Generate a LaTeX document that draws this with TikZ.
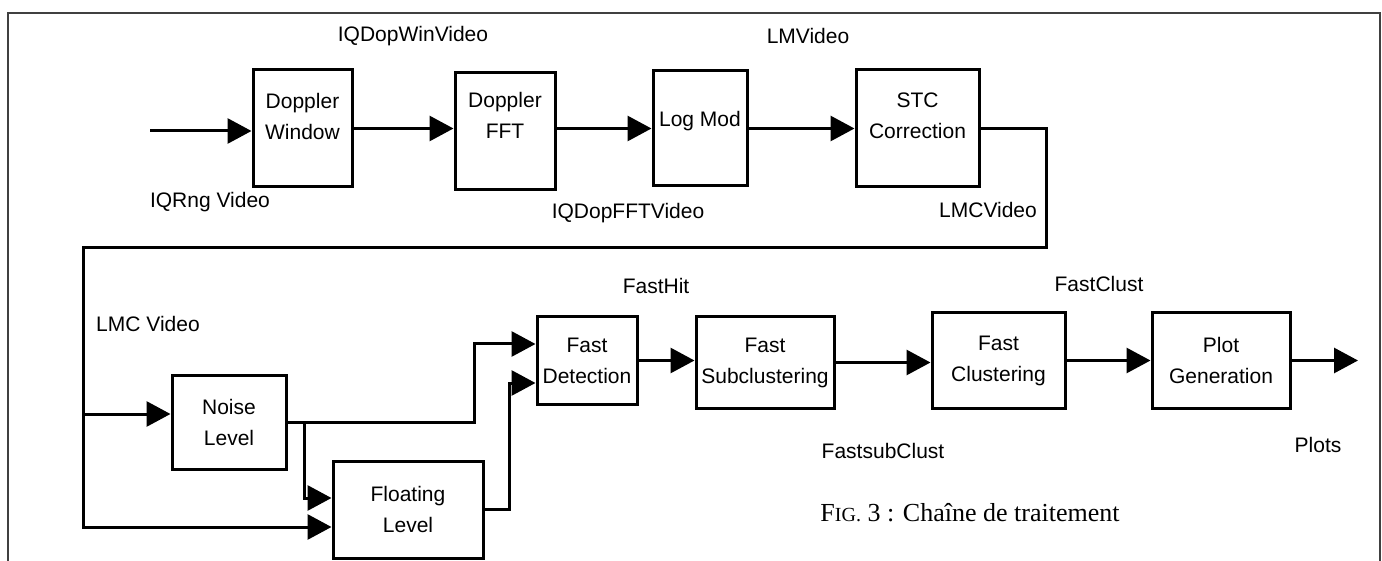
\documentclass[tikz,border=0pt]{standalone}
\usepackage{fontspec}
\setmainfont{Liberation Sans}
\newfontfamily\capfont{Liberation Serif}
\usetikzlibrary{arrows.meta}
\begin{document}
\begin{tikzpicture}[
    x=1pt, y=-1pt,
    every node/.style={font={\fontsize{21}{31}\selectfont}},
    blk/.style={draw, line width=3pt, align=center, inner sep=0pt},
    lifted/.style={text depth=#1},
    flow/.style={line width=3pt, -{Triangle[length=24pt,width=25pt]}},
    frame/.style={line width=1.2pt, black!75}
    ]
    \useasboundingbox (0,0) rectangle (1382,561);
    \draw[frame] (8,561) -- (8,13) -- (1380,13) -- (1380,561);
    \node[blk, lifted=24pt, minimum width=99, minimum height=117] (dwin) at (302.5,128.5) {Doppler\\Window};
    \node[blk, lifted=32pt, minimum width=100, minimum height=117] (dfft) at (505,131.5) {Doppler\\FFT};
    \node[blk, lifted=19pt, minimum width=94, minimum height=115] (logm) at (700,128.5) {Log Mod};
    \node[blk, lifted=26pt, minimum width=123, minimum height=117] (stc) at (917.5,128.5) {STC\\Correction};
    \node[blk, minimum width=114, minimum height=93] (noise) at (229,422.5) {Noise\\Level};
    \node[blk, minimum width=150, minimum height=97] (float) at (408,509.5) {Floating\\Level};
    \node[blk, minimum width=100, minimum height=87] (fdet) at (587,360.5) {Fast\\Detection};
    \node[blk, minimum width=138, minimum height=91] (fsub) at (765,362.5) {Fast\\Subclustering};
    \node[blk, minimum width=133, minimum height=95] (fclu) at (998.5,360.5) {Fast\\Clustering};
    \node[blk, minimum width=138, minimum height=95] (pgen) at (1221,360.5) {Plot\\Generation};
    \node (winv) at (413,36) {IQDopWinVideo};
    \node (lmv) at (808,36) {LMVideo};
    \node (rngv) at (210,202) {IQRng Video};
    \node (fftv) at (628,213) {IQDopFFTVideo};
    \node (lmcv) at (988,210) {LMCVideo};
    \node (lmcv2) at (148,324) {LMC Video};
    \node (fhit) at (656,286) {FastHit};
    \node (fclust) at (1099,284) {FastClust};
    \node (fsclust) at (883,451) {FastsubClust};
    \node (plots) at (1318,445) {Plots};
    \node[font={\capfont\fontsize{26}{30}\selectfont}] (cap) at (970,513) {F{\fontsize{20}{24}\selectfont IG.} 3 : Chaîne de traitement};
    \coordinate (src) at (150,131);
    \coordinate (turn) at (1046,248);
    \coordinate (feed) at (83,248);
    \coordinate (tap) at (83,414);
    \coordinate (fin) at (83,527);
    \coordinate (split) at (304,421.5);
    \coordinate (sink) at (1358,360.5);
    \draw[flow] (src) -- (src -| dwin.west);
    \draw[flow] (dwin.east) -- (dwin.east -| dfft.west);
    \draw[flow] (logm.west -| dfft.east) -- (logm.west);
    \draw[flow] (logm.east) -- (stc.west);
    \draw[flow] (stc.east) -| (turn) -- (feed) -- (fin) -- (fin -| float.west);
    \draw[flow] (tap) -- (tap -| noise.west);
    \draw[flow] (noise.east) -- ++(187,0) |- ([yshift=16.5pt]fdet.west);
    \draw[flow] (split) |- ([yshift=11.5pt]float.west);
    \draw[flow] (float.east) -- ++(25,0) |- ([yshift=-22.5pt]fdet.west);
    \draw[flow] (fdet.east) -- (fdet.east -| fsub.west);
    \draw[flow] (fsub.east) -- (fsub.east -| fclu.west);
    \draw[flow] (fclu.east) -- (pgen.west);
    \draw[flow] (pgen.east) -- (sink);
\end{tikzpicture}
\end{document}
